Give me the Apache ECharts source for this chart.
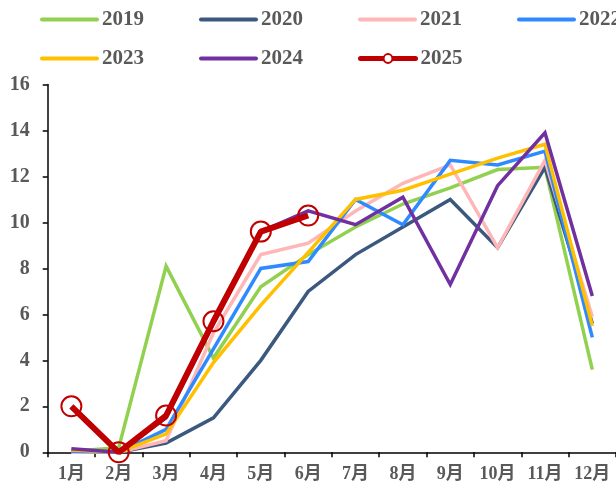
<!DOCTYPE html>
<html>
<head>
<meta charset="utf-8">
<script src="https://cdn.jsdelivr.net/npm/echarts@6/dist/echarts.min.js"></script>
<style>
  html, body { margin: 0; padding: 0; background: #fff; }
  #chart { width: 616px; height: 493px; }
</style>
</head>
<body>
<div id="chart"></div>
<script>
// Monthly values by year
const months = ['1月', '2月', '3月', '4月', '5月', '6月', '7月', '8月', '9月', '10月', '11月', '12月'];
const y2019 = [0.05, 0.2, 8.1, 4.1, 7.2, 8.6, 9.8, 10.8, 11.5, 12.3, 12.4, 3.6];
const y2020 = [0, 0, 0.4, 1.5, 4.0, 7.0, 8.6, 9.8, 11.0, 8.9, 12.4, 5.6];
const y2021 = [0, 0, 0.5, 5.2, 8.6, 9.1, 10.5, 11.7, 12.5, 8.9, 12.7, 5.9];
const y2022 = [0.05, 0, 1.0, 4.5, 8.0, 8.3, 11.0, 9.9, 12.7, 12.5, 13.1, 5.0];
const y2023 = [0.1, 0, 0.8, 3.9, 6.4, 8.7, 11.0, 11.4, 12.1, 12.8, 13.4, 5.5];
const y2024 = [0.15, 0, 1.5, 5.6, 9.6, 10.5, 9.9, 11.1, 7.3, 11.6, 13.9, 6.8];
const y2025 = [2.0, 0, 1.6, 5.7, 9.6, 10.3];
const yTicks = [0, 16, 2]; // min, max, interval

const seriesDefs = [
  { name: '2019', data: y2019, color: '#92D050' },
  { name: '2020', data: y2020, color: '#3B587E' },
  { name: '2021', data: y2021, color: '#FFB6B6' },
  { name: '2022', data: y2022, color: '#2F8AFF' },
  { name: '2023', data: y2023, color: '#FFC000' },
  { name: '2024', data: y2024, color: '#7030A0' }
];

const textGray = '#595959';
const serif = '"Liberation Serif", "Times New Roman", "Noto Sans CJK SC", serif';

const series = seriesDefs.map(d => ({
  name: d.name,
  type: 'line',
  data: d.data,
  symbol: 'none',
  color: d.color,
  lineStyle: { width: 3.5, color: d.color, join: 'miter' },
  z: 2
}));
series.push({
  name: '2025',
  type: 'line',
  data: y2025,
  symbol: 'circle',
  symbolSize: 20,
  color: '#C00000',
  itemStyle: { color: 'rgba(255,255,255,0)', borderColor: '#C00000', borderWidth: 2 },
  lineStyle: { width: 6, color: '#C00000' },
  z: 5
});

// Legend entries: plain lines, with a small ring marker only for 2025
const legendItem = name => name === '2025'
  ? { name: name, itemStyle: { opacity: 1, color: '#fff', borderColor: '#C00000', borderWidth: 2 }, lineStyle: { width: 5 } }
  : { name: name };

const legendText = { color: textGray, fontFamily: serif, fontWeight: 'bold', fontSize: 21 };
const legendBase = {
  orient: 'horizontal',
  left: 35,
  width: 620,
  itemWidth: 55,
  itemHeight: 11,
  itemGap: 55,
  textStyle: legendText,
  itemStyle: { opacity: 0 },
  lineStyle: { width: 4, cap: 'round' }
};

const chart = echarts.init(document.getElementById('chart'), null, { renderer: 'canvas' });
chart.setOption({
  animation: false,
  backgroundColor: '#fff',
  legend: [
    Object.assign({}, legendBase, { top: 4, data: ['2019', '2020', '2021', '2022'].map(legendItem) }),
    Object.assign({}, legendBase, { top: 43, data: ['2023', '2024', '2025'].map(legendItem) })
  ],
  grid: { left: 47.7, top: 84.5, right: -1.7, bottom: 40.7, containLabel: false },
  xAxis: {
    type: 'category',
    data: months,
    boundaryGap: true,
    axisLine: { lineStyle: { color: '#000', width: 1.5 } },
    axisTick: { show: true, interval: 0, length: 5, lineStyle: { color: '#000', width: 1.5 } },
    axisLabel: { interval: 0, margin: 13, color: textGray, fontFamily: serif, fontWeight: 'bold', fontSize: 18 },
    splitLine: { show: false }
  },
  yAxis: {
    type: 'value',
    min: yTicks[0],
    max: yTicks[1],
    interval: yTicks[2],
    axisLine: { show: true, lineStyle: { color: '#000', width: 1.5 } },
    axisTick: { show: true, length: 5, lineStyle: { color: '#000', width: 1.5 } },
    axisLabel: { margin: 18, color: textGray, fontFamily: serif, fontWeight: 'bold', fontSize: 20 },
    splitLine: { show: false }
  },
  series: series
});
</script>
</body>
</html>
